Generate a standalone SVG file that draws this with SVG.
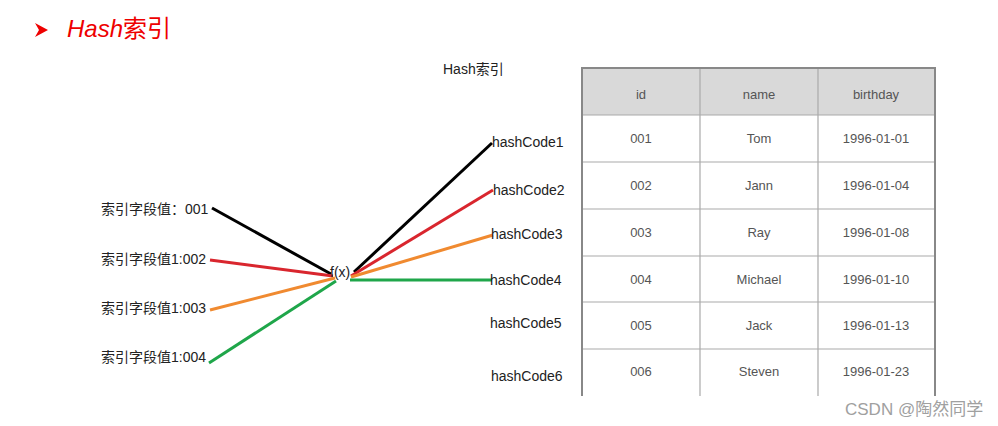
<svg xmlns="http://www.w3.org/2000/svg" width="998" height="426" viewBox="0 0 998 426">
<style>
.lbl{font-family:"Liberation Sans","Noto Sans CJK SC",sans-serif;font-size:14px;fill:#222}
.cell{font-family:"Liberation Sans","Noto Sans CJK SC",sans-serif;font-size:13px;fill:#555;text-anchor:middle}
.grid{stroke:#aaa;stroke-width:1.2;fill:none}
.outer{stroke:#888;stroke-width:2;fill:none}
.ln{stroke-width:3;fill:none}
</style>
<rect width="998" height="426" fill="#fff"/>
<g id="heading">
<path d="M35,23 L48,30 L35,37 L39,30 Z" fill="#e00"/>
<text x="67" y="37" font-family="Liberation Sans,'Noto Sans CJK SC',sans-serif" font-size="24" font-style="italic" fill="#e00">Hash<tspan font-style="normal">索引</tspan></text>
</g>
<text x="443" y="74" class="lbl" font-size="13">Hash索引</text>
<g id="connectors">
<line class="ln" x1="212" y1="208" x2="331" y2="274" stroke="#000"/>
<line class="ln" x1="210" y1="260" x2="333" y2="276" stroke="#d9262e"/>
<line class="ln" x1="210" y1="310" x2="335" y2="278" stroke="#f08a30"/>
<line class="ln" x1="209" y1="363" x2="336" y2="281" stroke="#1fa64a"/>
<line class="ln" x1="354" y1="272" x2="492" y2="143" stroke="#000"/>
<line class="ln" x1="351" y1="276" x2="493" y2="190" stroke="#d9262e"/>
<line class="ln" x1="351" y1="277" x2="493" y2="235" stroke="#f08a30"/>
<line class="ln" x1="350" y1="280" x2="492" y2="280" stroke="#1fa64a"/>
</g>
<g id="inputs">
<text x="101" y="214" class="lbl">索引字段值：001</text>
<text x="101" y="264" class="lbl">索引字段值1:002</text>
<text x="101" y="313" class="lbl">索引字段值1:003</text>
<text x="101" y="362" class="lbl">索引字段值1:004</text>
</g>
<g id="fx"><text x="330" y="277" class="lbl" font-size="13">f(x)</text></g>
<g id="hashcodes">
<text x="492" y="147" class="lbl">hashCode1</text>
<text x="493" y="195" class="lbl">hashCode2</text>
<text x="491" y="239" class="lbl">hashCode3</text>
<text x="490" y="285" class="lbl">hashCode4</text>
<text x="490" y="328" class="lbl">hashCode5</text>
<text x="491" y="381" class="lbl">hashCode6</text>
</g>
<g id="table">
<rect x="582" y="68" width="353" height="47" fill="#d9d9d9"/>
<path class="grid" d="M582,115 H935 M582,162 H935 M582,209 H935 M582,256 H935 M582,302 H935 M582,349 H935 M700,68 V396 M818,68 V396"/>
<path class="outer" d="M582,396 V68 H935 V396"/>
<text x="641" y="99" class="cell">id</text>
<text x="759" y="99" class="cell">name</text>
<text x="876" y="99" class="cell">birthday</text>
<text x="641" y="143" class="cell">001</text><text x="759" y="143" class="cell">Tom</text><text x="876" y="143" class="cell">1996-01-01</text>
<text x="641" y="190" class="cell">002</text><text x="759" y="190" class="cell">Jann</text><text x="876" y="190" class="cell">1996-01-04</text>
<text x="641" y="237" class="cell">003</text><text x="759" y="237" class="cell">Ray</text><text x="876" y="237" class="cell">1996-01-08</text>
<text x="641" y="284" class="cell">004</text><text x="759" y="284" class="cell">Michael</text><text x="876" y="284" class="cell">1996-01-10</text>
<text x="641" y="330" class="cell">005</text><text x="759" y="330" class="cell">Jack</text><text x="876" y="330" class="cell">1996-01-13</text>
<text x="641" y="376" class="cell">006</text><text x="759" y="376" class="cell">Steven</text><text x="876" y="376" class="cell">1996-01-23</text>
</g>
<text x="845" y="415" font-family="Liberation Sans,'Noto Sans CJK SC',sans-serif" font-size="17" fill="#a0a0a0">CSDN @陶然同学</text>
</svg>
